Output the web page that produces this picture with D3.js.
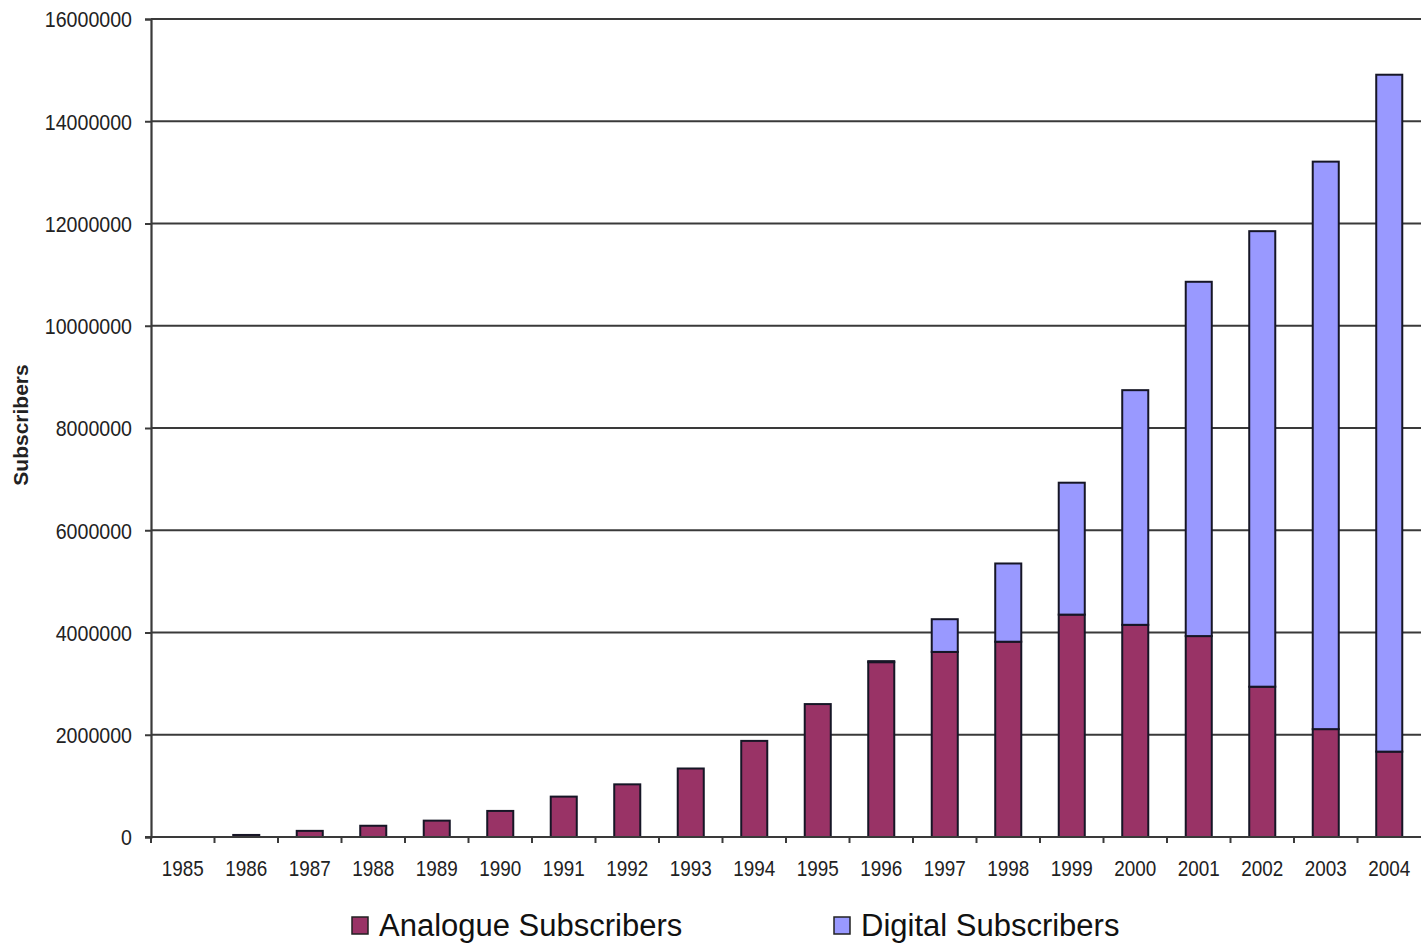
<!DOCTYPE html>
<html>
<head>
<meta charset="utf-8">
<script src="https://cdn.jsdelivr.net/npm/d3@7"></script>
<style>
    body { margin: 0; background: #fff; }
    .tick-label { font-family: "Liberation Sans", Arial, sans-serif; font-size: 22px; fill: #222; }
    .legend-label { font-family: "Liberation Sans", Arial, sans-serif; font-size: 31px; fill: #111; }
    .axis-title { font-family: "Liberation Sans", Arial, sans-serif; font-size: 21px; font-weight: bold; fill: #222; }
</style>
</head>
<body>
<div class="chart"></div>
<script>
var svgWidth = 1421;
var svgHeight = 943;

// data
var years = ["1985", "1986", "1987", "1988", "1989", "1990", "1991", "1992", "1993", "1994",
    "1995", "1996", "1997", "1998", "1999", "2000", "2001", "2002", "2003", "2004"];
var analogue = [0, 40000, 120000, 220000, 320000, 510000, 790000, 1030000, 1340000, 1880000,
    2600000, 3420000, 3620000, 3820000, 4350000, 4150000, 3930000, 2940000, 2110000, 1670000];
var digital = [0, 0, 0, 0, 0, 0, 0, 0, 0, 0,
    0, 20000, 640000, 1530000, 2580000, 4590000, 6930000, 8910000, 11100000, 13240000];
var yTicks = [0, 2000000, 4000000, 6000000, 8000000, 10000000, 12000000, 14000000, 16000000];
var seriesNames = ["Analogue Subscribers", "Digital Subscribers"];
var seriesColors = ["#993366", "#9999ff"];

var margin = { top: 19, right: 0, bottom: 106, left: 151 };
var width = svgWidth - margin.left - margin.right;
var height = svgHeight - margin.top - margin.bottom;

var svg = d3.select(".chart")
    .append("svg")
    .attr("width", svgWidth)
    .attr("height", svgHeight);

var chartGroup = svg.append("g")
    .attr("transform", `translate(${margin.left}, ${margin.top})`);

var table = years.map(function(y, i) {
    return { year: y, analogue: analogue[i], digital: digital[i] };
});
var stacked = d3.stack().keys(["analogue", "digital"])(table);

var xScale = d3.scaleBand()
    .domain(years)
    .range([0, width])
    .paddingInner(0.59)
    .paddingOuter(0.295);

var yScale = d3.scaleLinear()
    .domain([0, 16000000])
    .range([height, 0]);

// gridlines
chartGroup.append("g")
    .selectAll("line")
    .data(yTicks.filter(d => d > 0))
    .enter()
    .append("line")
    .attr("x1", 0)
    .attr("x2", width)
    .attr("y1", d => yScale(d))
    .attr("y2", d => yScale(d))
    .attr("stroke", "#3a3a3a")
    .attr("stroke-width", 2.2);

// y axis
var leftAxis = d3.axisLeft(yScale)
    .tickValues(yTicks)
    .tickFormat(d3.format("d"))
    .tickSize(6)
    .tickPadding(13);

var yAxis = chartGroup.append("g").call(leftAxis);
yAxis.select(".domain").attr("stroke", "#3a3a3a").attr("stroke-width", 2.2);
yAxis.selectAll(".tick line").attr("stroke", "#3a3a3a").attr("stroke-width", 2);
// the source font is a narrow one: squeeze digits to match
yAxis.selectAll(".tick text")
    .attr("class", "tick-label")
    .attr("dy", "0.36em")
    .attr("textLength", d => String(d).length * 10.9)
    .attr("lengthAdjust", "spacingAndGlyphs");

// bars
chartGroup.selectAll(".series")
    .data(stacked)
    .enter()
    .append("g")
    .attr("fill", (d, i) => seriesColors[i])
    .selectAll("rect")
    .data(d => d)
    .enter()
    .filter(d => d[1] - d[0] > 0)
    .append("rect")
    .attr("x", d => xScale(d.data.year))
    .attr("y", d => yScale(d[1]))
    .attr("width", xScale.bandwidth())
    .attr("height", d => yScale(d[0]) - yScale(d[1]))
    .attr("stroke", "#161626")
    .attr("stroke-width", 2);

// x axis: ticks between categories
var bottomAxis = d3.axisBottom(xScale).tickSize(0).tickPadding(23);
var xAxis = chartGroup.append("g")
    .attr("transform", `translate(0, ${height})`)
    .call(bottomAxis);
xAxis.select(".domain").remove();
xAxis.selectAll(".tick text")
    .attr("class", "tick-label")
    .attr("textLength", 42)
    .attr("lengthAdjust", "spacingAndGlyphs");

chartGroup.append("line")
    .attr("x1", -6)
    .attr("x2", width)
    .attr("y1", height)
    .attr("y2", height)
    .attr("stroke", "#3a3a3a")
    .attr("stroke-width", 2.2);

chartGroup.append("g")
    .selectAll("line")
    .data(years)
    .enter()
    .append("line")
    .attr("x1", d => xScale(d) - xScale.step() * xScale.paddingInner() / 2)
    .attr("x2", d => xScale(d) - xScale.step() * xScale.paddingInner() / 2)
    .attr("y1", height)
    .attr("y2", height + 6)
    .attr("stroke", "#3a3a3a")
    .attr("stroke-width", 2);

// y axis title
svg.append("text")
    .attr("class", "axis-title")
    .attr("transform", "rotate(-90)")
    .attr("x", -425)
    .attr("y", 28)
    .attr("text-anchor", "middle")
    .text("Subscribers");

// legend
var legendX = [352, 834];
var legend = svg.append("g");
seriesNames.forEach(function(name, i) {
    legend.append("rect")
        .attr("x", legendX[i])
        .attr("y", 917)
        .attr("width", 16)
        .attr("height", 17)
        .attr("fill", seriesColors[i])
        .attr("stroke", "#222")
        .attr("stroke-width", 1.5);
    legend.append("text")
        .attr("class", "legend-label")
        .attr("x", legendX[i] + 27)
        .attr("y", 936)
        .text(name);
});
</script>
</body>
</html>
